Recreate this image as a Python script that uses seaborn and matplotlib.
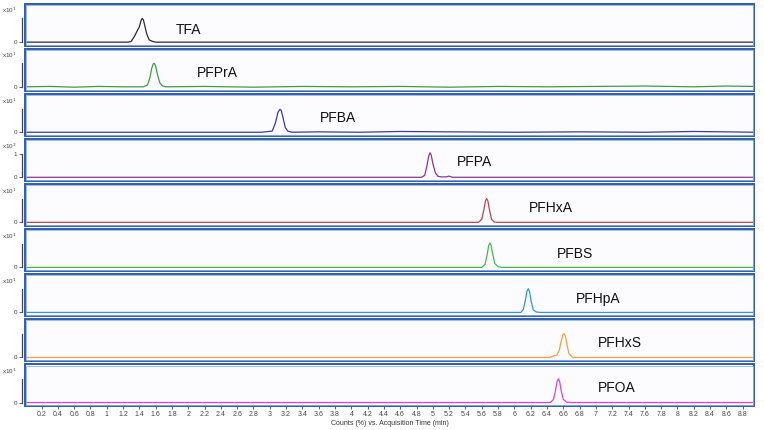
import numpy as np
import seaborn as sns
import matplotlib.pyplot as plt
from matplotlib.patches import Rectangle
from matplotlib.transforms import blended_transform_factory

# compounds, top to bottom
names = ['TFA', 'PFPrA', 'PFBA', 'PFPA', 'PFHxA', 'PFBS', 'PFHpA', 'PFHxS', 'PFOA']
colors = ['#2b2b2b', '#3f9b45', '#3a3aa8', '#8e3590', '#b4474f',
          '#45b84e', '#3b8fe3', '#f2a23a', '#e13fe0']
scale_labels = ['x10$^{1}$', 'x10$^{1}$', 'x10$^{1}$', 'x10$^{2}$', 'x10$^{1}$',
                'x10$^{1}$', 'x10$^{1}$', '', 'x10$^{1}$']
top_tick_labels = ['', '', '', '1', '', '', '', '', '']

# traces (time in min, signal relative to panel scale)
tfa_t = [0.0, 1.26, 1.30, 1.34, 1.37, 1.40, 1.42, 1.435, 1.45, 1.47, 1.49, 1.52, 1.56, 1.60, 8.94]
tfa_y = [0.0, 0.0, 0.02, 0.15, 0.28, 0.40, 0.56, 0.62, 0.58, 0.40, 0.22, 0.06, 0.02, 0.0, 0.0]

pfpra_t = [0.0, 0.3, 0.6, 0.9, 1.2, 1.45, 1.50, 1.53, 1.55, 1.57, 1.585, 1.60, 1.62,
           1.65, 1.68, 1.72, 2.2, 2.8, 3.4, 4.0, 4.6, 5.2, 5.8, 6.4, 7.0, 7.6, 8.2, 8.6, 8.94]
pfpra_y = [0.01, 0.02, 0.0, 0.02, 0.01, 0.01, 0.06, 0.25, 0.48, 0.61, 0.62, 0.55, 0.35,
           0.12, 0.04, 0.01, 0.02, 0.0, 0.02, 0.01, 0.02, 0.0, 0.02, 0.01, 0.02, 0.03, 0.01, 0.03, 0.02]

pfba_t = [0.0, 2.9, 3.03, 3.07, 3.10, 3.125, 3.14, 3.16, 3.19, 3.22, 3.27, 3.6, 4.1, 4.6,
          5.2, 6.0, 6.8, 7.6, 8.2, 8.6, 8.94]
pfba_y = [0.0, 0.0, 0.03, 0.25, 0.52, 0.60, 0.57, 0.40, 0.12, 0.03, 0.0, 0.01, 0.0, 0.02,
          0.01, 0.0, 0.01, 0.0, 0.02, 0.01, 0.0]

pfpa_t = [0.0, 4.86, 4.90, 4.925, 4.95, 4.965, 4.98, 5.00, 5.03, 5.06, 5.10, 5.16, 5.20,
          5.24, 8.94]
pfpa_y = [0.0, 0.0, 0.05, 0.28, 0.56, 0.64, 0.58, 0.36, 0.12, 0.03, 0.01, 0.01, 0.03,
          0.0, 0.0]

pfhxa_t = [0.0, 5.56, 5.60, 5.625, 5.645, 5.66, 5.675, 5.695, 5.72, 5.75, 5.79, 8.94]
pfhxa_y = [0.0, 0.0, 0.08, 0.32, 0.56, 0.62, 0.56, 0.32, 0.08, 0.01, 0.0, 0.0]

pfbs_t = [0.0, 5.60, 5.64, 5.665, 5.685, 5.70, 5.715, 5.735, 5.76, 5.80, 5.84, 8.94]
pfbs_y = [0.0, 0.0, 0.08, 0.32, 0.57, 0.64, 0.57, 0.34, 0.10, 0.02, 0.0, 0.0]

pfhpa_t = [0.0, 6.08, 6.11, 6.135, 6.155, 6.17, 6.185, 6.205, 6.23, 6.27, 6.32, 8.94]
pfhpa_y = [0.0, 0.0, 0.08, 0.32, 0.56, 0.62, 0.55, 0.30, 0.07, 0.01, 0.0, 0.0]

pfhxs_t = [0.0, 6.44, 6.48, 6.52, 6.55, 6.575, 6.595, 6.61, 6.625, 6.645, 6.67, 6.71,
           6.76, 8.94]
pfhxs_y = [0.0, 0.0, 0.04, 0.06, 0.18, 0.44, 0.60, 0.62, 0.56, 0.34, 0.10, 0.01,
           0.0, 0.0]

pfoa_t = [0.0, 6.44, 6.48, 6.505, 6.525, 6.54, 6.555, 6.575, 6.60, 6.64, 6.70, 8.94]
pfoa_y = [0.0, 0.0, 0.08, 0.32, 0.56, 0.62, 0.55, 0.30, 0.08, 0.01, 0.0, 0.0]

traces = [(tfa_t, tfa_y), (pfpra_t, pfpra_y), (pfba_t, pfba_y), (pfpa_t, pfpa_y),
          (pfhxa_t, pfhxa_y), (pfbs_t, pfbs_y), (pfhpa_t, pfhpa_y),
          (pfhxs_t, pfhxs_y), (pfoa_t, pfoa_y)]

# label positions (time, signal)
label_t = [1.85, 2.10, 3.61, 5.30, 6.18, 6.52, 6.76, 7.03, 7.03]
label_y = [0.33, 0.38, 0.38, 0.41, 0.38, 0.36, 0.36, 0.38, 0.38]

x_ticks = np.round(np.arange(0.2, 8.81, 0.2), 1)
x_tick_labels = [('%g' % v) for v in x_ticks]

sns.set_style('white')
plt.rcParams['font.family'] = ['Liberation Sans', 'DejaVu Sans']

fig = plt.figure(figsize=(7.64, 4.30), dpi=100)
axes = fig.subplots(9, 1, sharex=True)
fig.subplots_adjust(left=0.033, right=0.987, top=0.991, bottom=0.055, hspace=0.07)

for i, ax in enumerate(axes):
    t, y = traces[i]
    sns.lineplot(x=t, y=y, ax=ax, color=colors[i], lw=0.9, sort=False)
    ax.set_xlim(0, 8.94)
    ax.set_ylim(-0.1, 1.0)
    ax.set_facecolor('#fcfcfe')

    for s in ['top', 'right', 'bottom']:
        ax.spines[s].set_visible(False)
    ax.spines['left'].set_position(('outward', 2.5))
    ax.spines['left'].set_bounds(0, 0.62)
    ax.spines['left'].set_color('#444444')
    ax.spines['left'].set_linewidth(0.9)

    ax.set_yticks([0, 0.62])
    ax.set_yticklabels(['0', top_tick_labels[i]])
    ax.tick_params(axis='y', length=2.5, width=0.6, pad=1, labelsize=4.5,
                   colors='#444444', left=True)
    ax.yaxis.get_major_ticks()[1].tick1line.set_visible(top_tick_labels[i] != '')

    # double blue frame
    frame = Rectangle((0, 0), 1, 1, transform=ax.transAxes, fill=False,
                      edgecolor='#2f5cae', lw=1.4, clip_on=False, zorder=5)
    ax.add_patch(frame)
    inner = Rectangle((0.0015, 0.03), 0.997, 0.94, transform=ax.transAxes, fill=False,
                      edgecolor='#8fb0e6', lw=0.6, clip_on=False, zorder=5)
    ax.add_patch(inner)

    tr = blended_transform_factory(ax.transAxes, ax.transData)
    ax.text(-0.0316, 0.82, scale_labels[i], transform=tr, fontsize=4.5,
            color='#444444', ha='left', va='center')

    ax.text(label_t[i], label_y[i], names[i], fontsize=10, color='#111111',
            ha='left', va='center')

ax = axes[-1]
ax.set_xticks(x_ticks)
ax.set_xticklabels(x_tick_labels)
ax.tick_params(axis='x', length=2.5, width=0.6, pad=1, labelsize=5,
               colors='#444444', bottom=True)
ax.set_xlabel('Counts (%) vs. Acquisition Time (min)', fontsize=5,
              color='#333333', labelpad=1.5)

plt.savefig('out.png', dpi=100)
